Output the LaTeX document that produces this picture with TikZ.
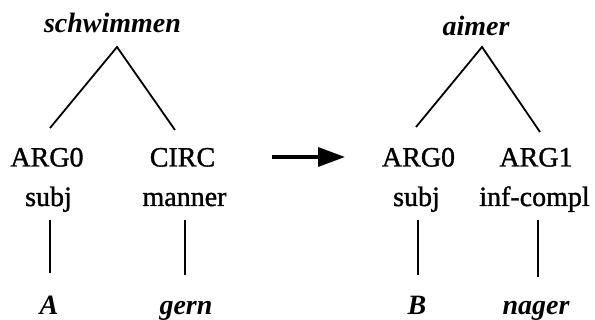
\documentclass[tikz,border=0pt]{standalone}
\usepackage{fontspec}
\setmainfont{Liberation Serif}
\newfontfamily\heavyserif[FakeBold=1.2]{Liberation Serif}
\usetikzlibrary{arrows.meta}
\tikzset{
  lbl/.style={anchor=base, inner sep=0pt, font=\heavyserif\fontsize{28}{30}\selectfont},
  ilbl/.style={anchor=base, inner sep=0pt, font=\fontsize{28}{30}\selectfont\bfseries\itshape},
  edge/.style={line width=1.8pt},
  bigarrow/.style={line width=3.5pt, -{Triangle[length=27pt, width=19pt]}}
}
\begin{document}
\begin{tikzpicture}[x=1pt, y=-1pt]
\useasboundingbox (0,0) rectangle (595,320);
% left tree
\node[ilbl] (schw) at (112.5,33) {schwimmen};
\coordinate (apexL) at (117,47);
\coordinate (endL1) at (50,128);
\coordinate (endL2) at (175,130);
\node[lbl] (argL) at (47,166.5) {ARG0};
\node[lbl] (circ) at (182.5,166.5) {CIRC};
\node[lbl] (subjL) at (48.5,206) {subj};
\node[lbl] (manner) at (184.5,206) {manner};
\node[ilbl] (A) at (49,315) {A};
\node[ilbl] (gern) at (186,315) {gern};
\coordinate (vL1t) at (50,220); \coordinate (vL1b) at (50,273);
\coordinate (vL2t) at (185,220); \coordinate (vL2b) at (185,275);
\draw[edge] (endL1) -- (apexL) -- (endL2);
\draw[edge] (vL1t) -- (vL1b);
\draw[edge] (vL2t) -- (vL2b);
% arrow
\coordinate (arS) at (272,157);
\coordinate (arE) at (345,157);
\draw[bigarrow] (arS) -- (arE);
% right tree
\node[ilbl] (aimer) at (476,36) {aimer};
\coordinate (apexR) at (482,47);
\coordinate (endR1) at (416,127);
\coordinate (endR2) at (540,132);
\node[lbl] (argR0) at (418.5,166.5) {ARG0};
\node[lbl] (argR1) at (536,166.5) {ARG1};
\node[lbl] (subjR) at (416.5,206) {subj};
\node[lbl] (infc) at (534.5,206) {inf-compl};
\node[ilbl] (B) at (417,315) {B};
\node[ilbl] (nager) at (536,315) {nager};
\coordinate (vR1t) at (418,220); \coordinate (vR1b) at (418,275);
\coordinate (vR2t) at (538,220); \coordinate (vR2b) at (538,277);
\draw[edge] (endR1) -- (apexR) -- (endR2);
\draw[edge] (vR1t) -- (vR1b);
\draw[edge] (vR2t) -- (vR2b);
\end{tikzpicture}
\end{document}
